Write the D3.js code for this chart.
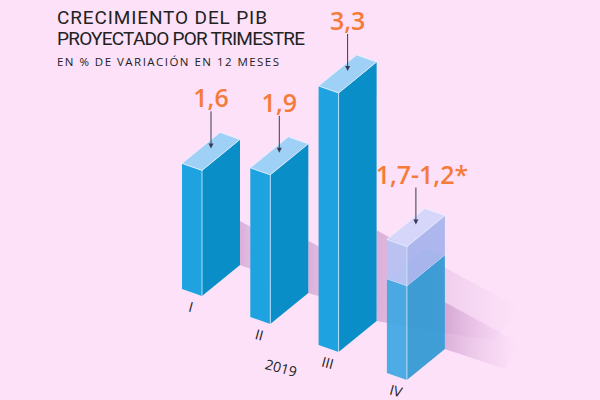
<!DOCTYPE html>
<html><head><meta charset="utf-8">
<script src="https://cdn.jsdelivr.net/npm/d3@7"></script>
<style>body{margin:0;background:#fce1f8}svg{display:block}</style>
</head><body>
<script>
const quarters = ["I", "II", "III", "IV"];
const values = [1.6, 1.9, 3.3, 1.7];
const lowValues = [null, null, null, 1.2];
const labels = ["1,6", "1,9", "3,3", "1,7-1,2*"];

const W = 600, H = 400;
const svg = d3.select("body").append("svg").attr("width", W).attr("height", H);
svg.append("rect").attr("width", W).attr("height", H).attr("fill", "#fce1f8");

// isometric-ish vectors
const front = [20, 7], depth = [38, -31];
const pos = d3.scalePoint().domain(quarters).range([0, 3]);
const baseX = d => 182 + pos(d) * 68.3;
const baseY = d => 289 + pos(d) * 28;
const h = d3.scaleLinear().domain([0, 1]).range([0, 78.5]);

const pts = a => a.map(p => p.join(",")).join(" ");

let defs = svg.append("defs");
let grad = defs.append("linearGradient").attr("id", "sh").attr("x1", 0).attr("x2", 1);
grad.append("stop").attr("offset", 0).attr("stop-color", "#c48fc4").attr("stop-opacity", 0.6);
grad.append("stop").attr("offset", 1).attr("stop-color", "#e9b9e6").attr("stop-opacity", 0);

function box(g, x, y, top, bottom, cols, op) {
  const ht = h(top), hb = h(bottom);
  const p = (a, b, hh) => [x + a * front[0] + b * depth[0], y + a * front[1] + b * depth[1] - hh];
  g.append("polygon").attr("points", pts([p(0,0,hb), p(1,0,hb), p(1,0,ht), p(0,0,ht)]))
    .attr("fill", cols[0]).attr("opacity", op);
  g.append("polygon").attr("points", pts([p(1,0,hb), p(1,1,hb), p(1,1,ht), p(1,0,ht)]))
    .attr("fill", cols[1]).attr("opacity", op);
  g.append("polygon").attr("points", pts([p(0,0,ht), p(1,0,ht), p(1,1,ht), p(0,1,ht)]))
    .attr("fill", cols[2]).attr("stroke", "#e8f4ff").attr("stroke-width", 0.8).attr("opacity", op);
  g.append("line").attr("x1", p(1,0,hb)[0]).attr("y1", p(1,0,hb)[1])
    .attr("x2", p(1,0,ht)[0]).attr("y2", p(1,0,ht)[1]).attr("stroke", "#d6ecff").attr("stroke-width", 0.8);
}

// shadows
quarters.forEach((q, i) => {
  const x = baseX(q) + front[0] + depth[0], y = baseY(q) + front[1] + depth[1];
  const ht = h(values[i]);
  svg.append("polygon")
    .attr("points", pts([[x, y], [x, y - ht * 0.35], [x + ht * 0.55, y - ht * 0.05], [x + ht * 0.45, y + 20]]))
    .attr("fill", "url(#sh)");
});

quarters.forEach((q, i) => {
  const g = svg.append("g");
  const x = baseX(q), y = baseY(q);
  if (lowValues[i] != null) {
    box(g, x, y, lowValues[i], 0, ["#3aa6e2", "#2b97d2", "#7cc0ee"], 0.9);
    box(g, x, y, values[i], lowValues[i], ["#b8c2f2", "#a9b4ec", "#d3d6fb"], 0.95);
  } else {
    box(g, x, y, values[i], 0, ["#1fa3e0", "#0a8ec8", "#9fd0f5"], 1);
  }
  const cx = x + front[0] / 2 + depth[0] / 2, cy = y + front[1] / 2 + depth[1] / 2 - h(values[i]);
  g.append("line").attr("x1", cx).attr("x2", cx).attr("y1", cy - 40).attr("y2", cy - 5)
    .attr("stroke", "#3a3a55").attr("stroke-width", 1);
  g.append("path").attr("d", `M${cx - 2.5},${cy - 8} L${cx + 2.5},${cy - 8} L${cx},${cy - 3}Z`).attr("fill", "#3a3a55");
  g.append("text").attr("x", cx + (i == 3 ? 6 : 0)).attr("y", cy - 44).attr("text-anchor", "middle")
    .attr("font-family", "Open Sans").attr("font-size", 25).attr("font-weight", 600)
    .attr("fill", "#f47b3a").text(labels[i]);
  g.append("text").attr("x", x + 9).attr("y", y + 23)
    .attr("transform", `rotate(15, ${x + 9}, ${y + 18})`).attr("text-anchor", "middle")
    .attr("font-family", "Open Sans").attr("font-size", 14).attr("fill", "#222").text(q);
});

svg.append("text").attr("x", 281).attr("y", 373).attr("text-anchor", "middle")
  .attr("transform", "rotate(15, 281, 368)")
  .attr("font-family", "Open Sans").attr("font-size", 14).attr("fill", "#222").text("2019");

svg.append("text").attr("x", 57).attr("y", 24).attr("font-family", "Roboto").attr("font-size", 19)
  .attr("textLength", 210).attr("fill", "#222").text("CRECIMIENTO DEL PIB");
svg.append("text").attr("x", 57).attr("y", 45).attr("font-family", "Roboto").attr("font-size", 19)
  .attr("textLength", 248).attr("fill", "#222").text("PROYECTADO POR TRIMESTRE");
svg.append("text").attr("x", 57).attr("y", 66).attr("font-family", "Open Sans").attr("font-size", 11.5)
  .attr("textLength", 222).attr("fill", "#222").text("EN % DE VARIACIÓN EN 12 MESES");
</script>
</body></html>
